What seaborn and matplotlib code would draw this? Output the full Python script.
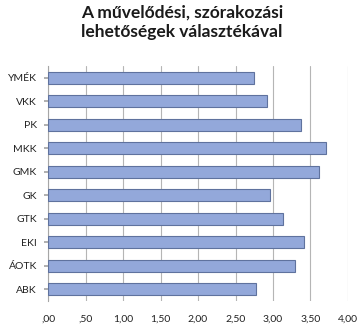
import matplotlib
matplotlib.use("Agg")
import matplotlib.pyplot as plt
import seaborn as sns
import pandas as pd

categories = ["YMÉK", "VKK", "PK", "MKK", "GMK", "GK", "GTK", "EKI", "ÁOTK", "ABK"]
values = [2.75, 2.92, 3.38, 3.71, 3.62, 2.96, 3.13, 3.41, 3.30, 2.77]
xticks = [0, 0.5, 1.0, 1.5, 2.0, 2.5, 3.0, 3.5, 4.0]
xticklabels = [",00", ",50", "1,00", "1,50", "2,00", "2,50", "3,00", "3,50", "4,00"]
title = "A művelődési, szórakozási\nlehetőségek választékával"

sns.set_theme(style="white")
plt.rcParams["font.family"] = ["Lato", "DejaVu Sans"]

df = pd.DataFrame({"cat": categories, "val": values})

fig = plt.figure(figsize=(3.64, 3.30), dpi=100)
ax = fig.add_axes([0.132, 0.088, 0.824, 0.712])

sns.barplot(data=df, y="cat", x="val", orient="h", color="#93A8DA",
            saturation=1, width=0.5, edgecolor="#5F729E", linewidth=0.8,
            ax=ax, zorder=3)

ax.set_xlim(0, 4.0)
ax.set_xticks(xticks)
ax.set_xticklabels(xticklabels, fontsize=7.5, color="#222222")
ax.tick_params(axis="y", labelsize=7.5, colors="#222222", length=3, pad=5)
ax.tick_params(axis="x", length=0, pad=10)
ax.set_xlabel("")
ax.set_ylabel("")
ax.xaxis.grid(True, color="#B5B5B5", linewidth=0.8, zorder=0)
for s in ["top", "right", "bottom"]:
    ax.spines[s].set_visible(False)
ax.spines["left"].set_color("#A6A6A6")
ax.spines["left"].set_linewidth(0.8)
ax.tick_params(axis="y", color="#A6A6A6", left=True)

fig.suptitle(title, x=0.5, y=0.985, fontsize=12.5, fontweight="bold",
             color="#1a1a1a", linespacing=1.2)

fig.savefig("out.png", dpi=100, facecolor="white")
